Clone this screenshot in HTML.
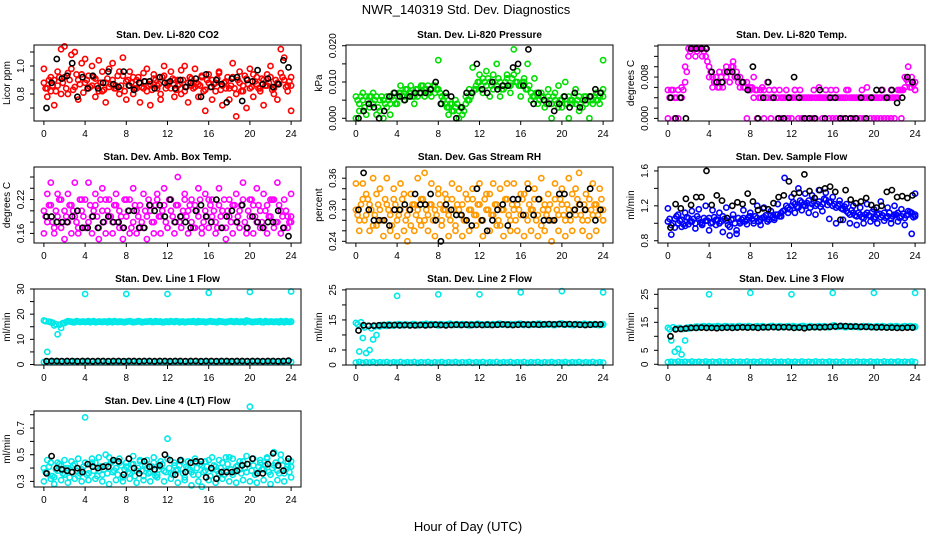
<!DOCTYPE html>
<html><head><meta charset="utf-8">
<style>
html,body{margin:0;padding:0;background:#fff;}
svg{display:block;font-family:"Liberation Sans",sans-serif;}
</style></head>
<body>
<svg id="chart" width="936" height="540" viewBox="0 0 936 540" xmlns="http://www.w3.org/2000/svg">
<rect width="936" height="540" fill="#fff"/>
<text x="466" y="14" font-size="13" text-anchor="middle">NWR_140319  Std. Dev. Diagnostics</text>
<text x="468" y="531" font-size="13" text-anchor="middle">Hour of Day (UTC)</text>
</svg>
<script>
// ---- data ----
const xTicks=[0,4,8,12,16,20,24];
// P1 CO2
const co2A=[0.88,0.84,0.82,0.90,0.86,0.80,0.92,0.95,0.98,0.85,0.90,1.02,0.88,0.93,0.86,0.91,0.82,0.96,0.88,0.85,0.90,0.84,0.80,0.93,0.89,0.86,0.92,0.84,0.88,0.95,0.82,0.87,0.91,0.86,0.80,0.93,0.88,0.84,0.90,0.86,0.97,0.82,0.88,0.91,0.85,0.87,0.93,0.83,0.88,0.90,0.82,0.95,0.86,0.89,0.84,0.92,0.80,0.88,0.86,0.91,0.84,0.94,0.87,0.82,0.90,0.86,0.92,0.84,0.88,0.95,0.90,0.86,0.92];
const co2B=[0.98,0.78,0.92,0.72,0.96,1.12,1.14,0.80,1.08,1.10,0.76,0.94,1.05,0.84,1.00,0.78,1.04,0.82,0.74,0.98,1.02,0.86,0.96,1.06,0.76,0.96,0.80,0.90,0.74,0.84,0.98,0.72,0.94,0.84,0.76,1.00,0.86,0.96,0.78,0.90,0.80,1.00,0.74,0.86,0.98,0.78,0.92,0.68,0.94,0.76,0.88,0.96,0.72,0.84,0.76,1.02,0.64,0.96,0.82,0.70,0.98,0.78,0.92,0.84,0.72,0.94,1.00,0.80,0.76,1.12,1.06,0.82,0.68];
const co2C=[0.84,0.90,0.86,0.82,0.92,0.88,0.84,0.90,0.83,0.94,0.87,0.81,0.90,0.85,0.92,0.86,0.88,0.83,0.91,0.87,0.84,0.93,0.86,0.82,0.90,0.88,0.84,0.92,0.85,0.89,0.86,0.83,0.90,0.87,0.92,0.84,0.88,0.91,0.83,0.87,0.90,0.85,0.92,0.84,0.88,0.86,0.82,0.90,0.85,0.87,0.91,0.83,0.88,0.92,0.86,0.84,0.90,0.82,0.93,0.87,0.85,0.89,0.84,0.91,0.86,0.88,0.83,0.90,0.87,0.92,0.85,0.89,0.86];
const co2K=[0.70,0.88,1.05,0.91,0.93,1.02,0.78,0.92,0.84,0.93,0.84,0.88,0.96,0.87,0.85,0.96,0.86,0.83,0.88,0.89,0.89,0.84,0.92,0.88,0.89,0.84,0.90,0.85,0.88,0.91,0.78,0.94,0.85,0.90,0.87,0.74,0.91,0.92,0.75,0.90,0.89,0.97,0.87,0.91,0.85,0.87,1.04,0.99];
// P2 Pressure
const presA=[0.006,0.002,0.005,0.006,0.003,0.004,0.006,0.002,0.005,0.003,0.001,0.005,0.006,0.007,0.006,0.008,0.007,0.006,0.008,0.007,0.008,0.007,0.008,0.009,0.008,0.006,0.004,0.003,0.002,0.003,0.002,0.001,0.004,0.005,0.007,0.009,0.010,0.011,0.009,0.010,0.012,0.009,0.010,0.008,0.011,0.009,0.012,0.010,0.009,0.011,0.008,0.007,0.006,0.007,0.006,0.005,0.006,0.004,0.005,0.003,0.005,0.004,0.006,0.005,0.004,0.006,0.005,0.004,0.006,0.005,0.007,0.006,0.008];
const presB=[0.000,0.004,0.007,0.001,0.006,0.007,0.001,0.005,0.000,0.006,0.004,0.007,0.004,0.009,0.005,0.006,0.009,0.004,0.006,0.009,0.006,0.009,0.006,0.007,0.016,0.004,0.006,0.001,0.004,0.005,0.000,0.003,0.006,0.008,0.014,0.008,0.012,0.007,0.013,0.006,0.008,0.015,0.006,0.009,0.012,0.007,0.019,0.013,0.006,0.010,0.015,0.005,0.011,0.004,0.007,0.003,0.008,0.000,0.007,0.009,0.003,0.010,0.000,0.004,0.008,0.002,0.003,0.006,0.000,0.004,0.005,0.004,0.016];
const presC=[0.005,0.006,0.003,0.005,0.006,0.005,0.003,0.006,0.004,0.005,0.006,0.004,0.007,0.006,0.008,0.007,0.006,0.008,0.007,0.009,0.008,0.007,0.009,0.008,0.007,0.005,0.003,0.004,0.002,0.004,0.003,0.002,0.005,0.006,0.008,0.010,0.009,0.010,0.011,0.009,0.010,0.011,0.008,0.010,0.009,0.011,0.010,0.009,0.010,0.008,0.009,0.006,0.007,0.005,0.006,0.004,0.005,0.006,0.004,0.005,0.006,0.004,0.005,0.006,0.005,0.004,0.006,0.005,0.006,0.006,0.005,0.007,0.006];
const presK=[0.000,0.002,0.004,0.003,0.000,0.002,0.006,0.007,0.006,0.005,0.006,0.007,0.007,0.007,0.008,0.010,0.004,0.007,0.006,0.000,0.003,0.007,0.007,0.015,0.008,0.007,0.010,0.008,0.009,0.009,0.014,0.015,0.009,0.019,0.004,0.007,0.005,0.004,0.002,0.004,0.006,0.003,0.007,0.003,0.005,0.006,0.008,0.007];
// P3 Li-820 Temp
const ltA=[0.0055,0.004,0,0.0055,0.004,0.007,0.012,0.0135,0.0135,0.0135,0.0135,0.012,0.010,0.008,0.007,0.006,0.007,0.008,0.009,0.010,0.009,0.008,0.006,0.007,0.0055,0.004,0.0055,0.004,0.0055,0.004,0.004,0.0055,0.004,0.004,0.004,0.004,0.004,0.0055,0.004,0.004,0.004,0.004,0.004,0.004,0.004,0.004,0.004,0.004,0.004,0.0055,0.004,0.004,0.004,0.004,0.004,0.004,0.004,0.004,0.004,0.004,0.004,0.004,0.004,0.004,0.004,0.0055,0.004,0.004,0.0055,0.006,0.007,0.008,0.007];
const ltB=[0,0.0055,0.004,0,0.006,0.010,0.0135,0.0135,0.012,0.0135,0.012,0.0135,0.008,0.006,0.008,0.009,0.006,0.010,0.007,0.011,0.008,0.006,0.007,0,0.006,0.008,0,0.0055,0,0.007,0,0.0055,0,0,0,0,0,0.0055,0,0,0,0,0,0,0.006,0,0.0055,0,0,0,0,0,0.0055,0,0,0,0,0,0.006,0,0,0,0,0,0,0,0,0.0055,0,0.008,0.010,0.006,0.0055];
const ltC=[0.004,0.0055,0.004,0.004,0.0055,0.009,0.013,0.0135,0.013,0.0135,0.013,0.011,0.009,0.007,0.006,0.008,0.009,0.009,0.010,0.008,0.007,0.007,0.006,0.0055,0.006,0.0055,0.004,0.006,0.004,0.0055,0.004,0.004,0.0055,0.004,0.0055,0.004,0.004,0.004,0.0055,0.004,0.004,0.004,0.0055,0.004,0.004,0.004,0.004,0.0055,0.004,0.004,0.004,0.004,0.0055,0.004,0.004,0.004,0.0055,0.004,0.004,0.004,0.004,0.004,0.0055,0.004,0.004,0.004,0.004,0.0055,0.0055,0.0075,0.006,0.0065,0.0055];
const ltK=[0.004,0,0.004,0,0.0135,0.0135,0.0135,0.0135,0.009,0.007,0.007,0.009,0.009,0.008,0.007,0.0055,0.010,0,0.004,0.007,0.004,0,0,0.004,0.008,0.004,0,0,0,0.0055,0,0.004,0.004,0,0,0,0,0.004,0,0.004,0.0055,0.0055,0.004,0.0055,0.003,0.004,0.008,0.007];
// P4 Amb box temp
const abA=[0.20,0.18,0.21,0.17,0.19,0.22,0.20,0.18,0.21,0.19,0.17,0.20,0.22,0.18,0.19,0.21,0.17,0.20,0.22,0.19,0.18,0.21,0.20,0.17,0.19,0.22,0.18,0.20,0.21,0.17,0.19,0.20,0.18,0.22,0.19,0.21,0.17,0.20,0.18,0.21,0.19,0.22,0.20,0.18,0.21,0.19,0.17,0.20,0.22,0.19,0.18,0.21,0.20,0.17,0.19,0.21,0.18,0.20,0.22,0.17,0.19,0.21,0.18,0.20,0.17,0.21,0.19,0.22,0.18,0.20,0.17,0.19,0.18];
const abB=[0.16,0.23,0.25,0.16,0.23,0.17,0.15,0.23,0.16,0.25,0.16,0.22,0.17,0.25,0.16,0.23,0.15,0.24,0.16,0.22,0.16,0.23,0.17,0.15,0.22,0.16,0.24,0.16,0.17,0.23,0.15,0.21,0.16,0.23,0.16,0.24,0.17,0.22,0.16,0.26,0.17,0.23,0.16,0.22,0.17,0.24,0.16,0.23,0.17,0.22,0.16,0.24,0.17,0.15,0.22,0.16,0.23,0.17,0.25,0.16,0.22,0.16,0.24,0.17,0.23,0.16,0.22,0.17,0.25,0.16,0.22,0.17,0.23];
const abC=[0.19,0.21,0.18,0.20,0.22,0.18,0.19,0.21,0.20,0.18,0.22,0.19,0.17,0.21,0.20,0.19,0.22,0.18,0.20,0.19,0.21,0.18,0.19,0.22,0.20,0.17,0.21,0.19,0.18,0.20,0.22,0.18,0.21,0.19,0.20,0.18,0.22,0.19,0.21,0.18,0.20,0.19,0.21,0.17,0.20,0.22,0.18,0.19,0.21,0.20,0.17,0.19,0.22,0.20,0.18,0.21,0.19,0.21,0.18,0.20,0.22,0.19,0.21,0.18,0.20,0.19,0.22,0.18,0.21,0.19,0.20,0.18,0.19];
const abK=[0.19,0.19,0.18,0.18,0.18,0.19,0.20,0.17,0.17,0.19,0.17,0.18,0.19,0.18,0.18,0.17,0.20,0.20,0.17,0.17,0.21,0.20,0.21,0.19,0.22,0.18,0.19,0.18,0.17,0.20,0.21,0.19,0.18,0.22,0.17,0.19,0.20,0.18,0.21,0.17,0.19,0.18,0.17,0.18,0.18,0.20,0.17,0.155];
// P5 RH
const rhA=[0.30,0.28,0.32,0.29,0.31,0.27,0.33,0.30,0.28,0.31,0.29,0.32,0.28,0.30,0.33,0.29,0.27,0.31,0.30,0.32,0.28,0.29,0.31,0.30,0.33,0.28,0.30,0.29,0.32,0.27,0.30,0.31,0.28,0.30,0.32,0.29,0.31,0.28,0.30,0.33,0.29,0.31,0.27,0.30,0.32,0.28,0.30,0.31,0.29,0.33,0.28,0.30,0.32,0.29,0.27,0.31,0.30,0.28,0.32,0.29,0.31,0.28,0.30,0.33,0.29,0.31,0.28,0.30,0.32,0.29,0.31,0.30,0.28];
const rhB=[0.35,0.26,0.35,0.33,0.26,0.36,0.27,0.34,0.25,0.36,0.26,0.34,0.25,0.35,0.26,0.24,0.33,0.26,0.36,0.27,0.37,0.26,0.35,0.25,0.34,0.27,0.33,0.25,0.35,0.26,0.34,0.25,0.33,0.26,0.34,0.27,0.35,0.25,0.33,0.26,0.35,0.27,0.34,0.25,0.35,0.26,0.35,0.26,0.33,0.25,0.35,0.26,0.34,0.25,0.36,0.26,0.33,0.24,0.35,0.26,0.34,0.25,0.36,0.26,0.34,0.37,0.26,0.33,0.25,0.35,0.26,0.34,0.28];
const rhC=[0.29,0.31,0.28,0.32,0.30,0.29,0.31,0.28,0.32,0.30,0.27,0.31,0.29,0.32,0.28,0.30,0.31,0.29,0.28,0.32,0.30,0.31,0.28,0.29,0.31,0.30,0.32,0.28,0.30,0.31,0.29,0.28,0.32,0.30,0.29,0.31,0.28,0.32,0.30,0.29,0.31,0.28,0.30,0.32,0.29,0.31,0.28,0.30,0.32,0.29,0.31,0.30,0.28,0.32,0.30,0.29,0.31,0.28,0.30,0.32,0.29,0.31,0.28,0.30,0.32,0.29,0.31,0.28,0.30,0.31,0.29,0.32,0.30];
const rhK=[0.30,0.37,0.30,0.28,0.28,0.28,0.27,0.30,0.30,0.31,0.30,0.33,0.31,0.31,0.33,0.28,0.24,0.31,0.30,0.29,0.29,0.28,0.27,0.34,0.28,0.26,0.28,0.30,0.31,0.27,0.32,0.32,0.29,0.34,0.29,0.32,0.28,0.28,0.28,0.33,0.33,0.29,0.30,0.31,0.30,0.34,0.28,0.30];
// P6 Sample flow
const sfA=[1.02,0.98,1.05,1.00,1.04,0.97,1.06,1.02,1.00,1.05,0.98,1.03,1.06,1.01,1.04,1.00,1.08,1.03,0.96,1.05,0.92,1.02,1.06,1.04,1.08,1.03,1.06,1.04,1.07,1.05,1.09,1.06,1.10,1.12,1.15,1.18,1.20,1.22,1.18,1.24,1.20,1.26,1.22,1.20,1.25,1.22,1.27,1.24,1.20,1.18,1.22,1.16,1.14,1.10,1.12,1.08,1.10,1.06,1.12,1.08,1.05,1.10,1.07,1.12,1.08,1.05,1.10,1.12,1.08,1.06,1.10,1.12,1.08];
const sfB=[1.17,0.87,0.95,1.10,0.96,1.12,0.99,1.14,0.94,1.16,1.00,1.20,0.92,1.15,0.98,1.12,0.90,1.18,0.86,1.10,0.88,1.00,1.15,0.99,1.12,1.00,1.20,0.98,1.18,1.02,1.14,1.04,1.22,1.08,1.52,1.12,1.30,1.12,1.40,1.15,1.34,1.12,1.32,1.10,1.38,1.14,1.35,1.05,1.30,1.00,1.26,1.04,1.22,1.00,1.20,0.98,1.18,1.00,1.22,1.02,1.16,1.00,1.25,1.03,1.18,1.00,1.20,1.02,1.16,0.98,1.14,0.88,1.34];
const sfC=[1.05,1.00,1.08,1.03,0.99,1.07,1.02,1.05,1.08,1.01,1.06,1.03,1.00,1.07,1.04,1.02,1.05,0.98,1.04,1.00,1.06,1.04,1.02,1.07,1.05,1.08,1.02,1.06,1.09,1.04,1.07,1.10,1.08,1.14,1.20,1.16,1.24,1.19,1.26,1.21,1.23,1.18,1.25,1.22,1.19,1.28,1.21,1.25,1.22,1.20,1.17,1.19,1.12,1.15,1.09,1.12,1.07,1.10,1.09,1.13,1.07,1.11,1.09,1.06,1.12,1.08,1.10,1.06,1.11,1.09,1.13,1.07,1.10];
const sfK=[0.95,1.22,1.17,1.28,1.21,1.30,1.30,1.60,1.21,1.32,1.26,1.06,1.20,1.24,1.22,1.34,1.25,1.15,1.17,1.16,1.23,1.30,1.32,1.48,1.34,1.35,1.56,1.37,1.29,1.38,1.40,1.42,1.36,1.04,1.38,1.27,1.23,1.25,1.29,1.21,1.18,1.20,1.36,1.38,1.30,1.31,1.29,1.32];
// P7 Line 1
const l1A=[17.5,5,16.8,15.5,12,14.5,16.5,17.2,17.0,16.8,17.1,17.0,16.9,17.2,17.0,16.8,17.1,16.9,17.0,17.2,16.8,17.0,17.1,16.9,17.0,17.2,16.8,17.0,17.1,16.9,17.0,17.2,16.9,17.0,17.1,16.8,17.0,17.2,16.9,17.1,17.0,16.8,17.1,17.0,16.9,17.2,17.0,16.8,17.1,17.0,16.9,17.2,17.0,16.8,17.1,17.0,17.2,16.9,17.0,17.5,17.1,16.9,17.0,17.2,16.8,17.0,17.1,16.9,17.0,17.2,16.8,17.0,17.1];
const l1C=[17.2,17.0,16.6,16.0,15.8,16.4,16.9,17.1,16.8,17.2,16.9,17.1,17.0,16.8,17.2,16.9,17.0,17.1,16.8,17.0,17.2,16.9,17.0,16.8,17.1,17.0,16.9,17.2,16.8,17.0,17.1,16.9,17.2,17.0,16.8,17.1,16.9,17.0,17.2,16.8,17.1,16.9,17.0,17.2,16.8,17.0,17.1,16.9,17.2,17.0,16.8,17.1,16.9,17.0,17.2,16.9,17.0,17.1,16.8,17.2,16.9,17.0,17.1,16.8,17.2,16.9,17.0,17.1,16.8,17.0,17.2,16.9,17.0];
const l1B=[1.0,1.2,0.9,1.1,1.0,1.3,0.9,1.0,1.1,1.2,0.9,1.0,1.1,1.0,1.2,0.9,1.0,1.1,1.0,1.2,0.9,1.1,1.0,1.0,1.2,0.9,1.1,1.0,1.0,1.2,0.9,1.1,1.0,1.0,1.2,0.9,1.1,1.0,1.0,1.2,0.9,1.1,1.0,1.0,1.2,0.9,1.1,1.0,1.0,1.2,0.9,1.1,1.0,1.0,1.2,0.9,1.1,1.0,1.0,1.2,0.9,1.1,1.0,1.0,1.2,0.9,1.1,1.0,1.0,1.2,0.9,1.1,1.0];
const l1K=[1.3,1.4,1.4,1.3,1.4,1.4,1.3,1.4,1.4,1.3,1.4,1.4,1.3,1.4,1.4,1.3,1.4,1.4,1.3,1.4,1.4,1.3,1.4,1.4,1.3,1.4,1.4,1.3,1.4,1.4,1.3,1.4,1.4,1.3,1.4,1.4,1.3,1.4,1.4,1.3,1.4,1.4,1.3,1.4,1.4,1.3,1.4,1.5];
const spikeT=[4,8,12,16,20,24];
const l1S=[28,28,28,28.5,28.8,29];
// P8 Line 2
const l2A=[14,4.5,9,4,5,8.5,10,12.8,13.2,13.0,13.4,13.1,13.3,13.5,13.2,13.4,13.3,13.6,13.2,13.4,13.5,13.3,13.6,13.4,13.2,13.5,13.3,13.6,13.4,13.5,13.3,13.6,13.4,13.2,13.5,13.3,13.6,13.4,13.5,13.3,13.6,13.4,13.7,13.5,13.3,13.6,13.4,13.5,13.7,13.3,13.6,13.4,13.5,13.7,13.3,13.6,13.4,13.5,13.3,13.6,13.8,13.4,13.5,13.3,13.6,13.4,13.5,13.3,13.6,13.4,13.5,13.3,13.6];
const l2C=[13.5,14.2,12.5,13.0,12.2,12.8,13.0,13.3,13.1,13.5,13.2,13.4,13.6,13.3,13.5,13.2,13.6,13.4,13.3,13.5,13.7,13.4,13.5,13.3,13.6,13.4,13.5,13.7,13.3,13.6,13.4,13.5,13.3,13.6,13.4,13.7,13.5,13.3,13.6,13.4,13.5,13.7,13.4,13.6,13.5,13.3,13.6,13.7,13.4,13.5,13.3,13.6,13.4,13.7,13.5,13.4,13.6,13.3,13.5,13.7,13.4,13.6,13.5,13.3,13.6,13.4,13.7,13.5,13.4,13.6,13.3,13.5,13.4];
const l2B=[0.8,1.0,0.7,0.9,0.8,1.0,0.7,0.9,0.8,1.0,0.7,0.9,0.8,1.0,0.7,0.9,0.8,1.0,0.7,0.9,0.8,1.0,0.7,0.9,0.8,1.0,0.7,0.9,0.8,1.0,0.7,0.9,0.8,1.0,0.7,0.9,0.8,1.0,0.7,0.9,0.8,1.0,0.7,0.9,0.8,1.0,0.7,0.9,0.8,1.0,0.7,0.9,0.8,1.0,0.7,0.9,0.8,1.0,0.7,0.9,0.8,1.0,0.7,0.9,0.8,1.0,0.7,0.9,0.8,1.0,0.7,0.9,0.8];
const l2K=[11.5,13.2,13.0,13.1,13.2,13.3,13.2,13.3,13.2,13.3,13.2,13.2,13.3,13.2,13.3,13.4,13.3,13.2,13.3,13.4,13.3,13.4,13.3,13.4,13.3,13.4,13.3,13.4,13.5,13.4,13.3,13.4,13.5,13.4,13.5,13.4,13.5,13.6,13.5,13.6,13.5,13.6,13.5,13.4,13.3,13.4,13.5,13.5];
const l2S=[23,23.5,23.5,24.2,24.6,24.2];
// P9 Line 3
const l3A=[13,8.5,4.5,5.5,3.5,8.5,12.8,13.0,13.4,13.2,13.5,13.3,13.6,13.4,13.2,13.5,13.3,13.6,13.4,13.5,13.3,13.6,13.4,13.2,13.5,13.3,13.6,13.4,13.5,13.3,13.6,13.4,13.2,13.5,13.3,13.6,13.4,13.5,13.3,13.6,13.4,13.2,13.5,13.3,13.6,13.4,13.5,13.3,13.8,13.4,13.6,13.5,13.3,13.6,13.4,13.5,13.3,13.6,13.4,13.5,13.3,13.6,13.4,13.5,13.3,13.6,13.4,13.5,13.3,13.6,13.4,13.5,13.3];
const l3C=[12.5,13.2,12.8,13.0,12.6,13.1,13.3,13.1,13.5,13.3,13.6,13.4,13.2,13.5,13.7,13.3,13.6,13.4,13.5,13.3,13.6,13.4,13.5,13.7,13.3,13.5,13.4,13.6,13.3,13.5,13.7,13.4,13.6,13.3,13.5,13.4,13.6,13.3,13.5,13.7,13.4,13.6,13.3,13.5,13.4,13.6,13.3,13.5,13.9,13.4,13.6,13.3,13.5,13.4,13.6,13.3,13.5,13.4,13.6,13.3,13.5,13.4,13.6,13.3,13.5,13.4,13.6,13.3,13.5,13.4,13.6,13.3,13.5];
const l3B=[0.8,0.9,0.7,1.0,0.8,0.9,0.7,1.0,0.8,0.9,0.7,1.0,0.8,0.9,0.7,1.0,0.8,0.9,0.7,1.0,0.8,0.9,0.7,1.0,0.8,0.9,0.7,1.0,0.8,0.9,0.7,1.0,0.8,0.9,0.7,1.0,0.8,0.9,0.7,1.0,0.8,0.9,0.7,1.0,0.8,0.9,0.7,1.0,0.8,0.9,0.7,1.0,0.8,0.9,0.7,1.0,0.8,0.9,0.7,1.0,0.8,0.9,0.7,1.0,0.8,0.9,0.7,1.0,0.8,0.9,0.7,1.0,0.8];
const l3K=[10,12.5,12.6,12.8,13.0,13.0,13.1,13.0,13.0,12.9,13.0,13.1,13.0,13.1,13.2,13.1,13.2,13.0,13.2,13.2,13.3,13.2,13.3,13.2,13.0,13.1,12.9,13.2,13.3,13.2,13.3,13.4,13.5,13.7,13.6,13.5,13.5,13.4,13.4,13.3,13.2,13.2,13.1,13.1,13.0,13.0,13.1,13.1];
const l3S=[25,25.5,25,25.5,25.5,25.5];
// P10 Line 4
const l4A=[0.40,0.36,0.44,0.33,0.38,0.42,0.35,0.40,0.37,0.43,0.34,0.39,0.78,0.36,0.44,0.44,0.38,0.35,0.42,0.48,0.37,0.40,0.44,0.33,0.41,0.36,0.43,0.38,0.46,0.34,0.40,0.37,0.44,0.35,0.41,0.38,0.62,0.36,0.42,0.39,0.45,0.33,0.40,0.37,0.44,0.35,0.42,0.38,0.46,0.39,0.41,0.36,0.44,0.38,0.48,0.35,0.41,0.39,0.45,0.37,0.86,0.42,0.36,0.44,0.39,0.47,0.35,0.42,0.38,0.50,0.36,0.41,0.45];
const l4B=[0.30,0.46,0.32,0.28,0.44,0.31,0.46,0.29,0.45,0.32,0.47,0.30,0.44,0.31,0.47,0.32,0.48,0.30,0.50,0.28,0.45,0.31,0.47,0.30,0.44,0.32,0.49,0.29,0.45,0.31,0.46,0.30,0.48,0.33,0.45,0.30,0.47,0.32,0.44,0.29,0.46,0.31,0.45,0.27,0.47,0.30,0.26,0.45,0.31,0.48,0.29,0.46,0.32,0.48,0.30,0.47,0.29,0.45,0.31,0.49,0.30,0.47,0.29,0.46,0.31,0.48,0.28,0.52,0.31,0.46,0.30,0.45,0.33];
const l4C=[0.37,0.41,0.34,0.39,0.43,0.36,0.40,0.33,0.42,0.38,0.36,0.41,0.35,0.43,0.38,0.34,0.41,0.39,0.36,0.44,0.38,0.35,0.42,0.39,0.37,0.43,0.34,0.40,0.38,0.42,0.36,0.41,0.34,0.39,0.43,0.37,0.40,0.35,0.38,0.42,0.36,0.41,0.39,0.35,0.40,0.43,0.37,0.41,0.34,0.42,0.38,0.40,0.35,0.43,0.39,0.37,0.42,0.36,0.40,0.43,0.38,0.35,0.41,0.39,0.42,0.37,0.40,0.44,0.36,0.42,0.39,0.37,0.41];
const l4K=[0.36,0.49,0.40,0.39,0.38,0.37,0.40,0.37,0.43,0.41,0.40,0.41,0.41,0.46,0.45,0.35,0.47,0.40,0.36,0.45,0.41,0.39,0.42,0.50,0.46,0.35,0.46,0.37,0.44,0.45,0.45,0.33,0.40,0.32,0.37,0.37,0.37,0.38,0.42,0.43,0.47,0.36,0.36,0.43,0.51,0.42,0.38,0.47];

// ---- panel layout ----
const NS="http://www.w3.org/2000/svg";
const svg=document.getElementById('chart');
const panels=[
 {name:'co2',title:'Stan. Dev. Li-820 CO2',ylab:'Licor ppm',col:0,row:0,y0:0.607,y1:1.15,ticks:[0.6,0.7,0.8,0.9,1.0,1.1],labels:{'0.6':'0.6','0.8':'0.8','1':'1.0'},color:'#ff0000',series:[co2A,co2B,co2C],black:co2K},
 {name:'pressure',title:'Stan. Dev. Li-820 Pressure',ylab:'kPa',col:1,row:0,y0:-0.00075,y1:0.0202,ticks:[0,0.005,0.01,0.015,0.02],labels:{'0':'0.000','0.01':'0.010','0.02':'0.020'},color:'#00dd00',series:[presA,presB,presC],black:presK},
 {name:'li820-temp',title:'Stan. Dev. Li-820 Temp.',ylab:'degrees C',col:2,row:0,y0:-0.0005,y1:0.0142,ticks:[0,0.002,0.004,0.006,0.008,0.01,0.012,0.014],labels:{'0':'0.000','0.008':'0.008'},color:'#ff00ff',series:[ltA,ltB,ltC],black:ltK},
 {name:'amb-box-temp',title:'Stan. Dev. Amb. Box Temp.',ylab:'degrees C',col:0,row:1,y0:0.143,y1:0.2777,ticks:[0.16,0.18,0.2,0.22,0.24,0.26],labels:{'0.16':'0.16','0.22':'0.22'},color:'#ff00ff',series:[abA,abB,abC],black:abK},
 {name:'gas-rh',title:'Stan. Dev. Gas Stream RH',ylab:'percent',col:1,row:1,y0:0.2368,y1:0.3813,ticks:[0.24,0.26,0.28,0.3,0.32,0.34,0.36],labels:{'0.24':'0.24','0.3':'0.30','0.36':'0.36'},color:'#ff9900',series:[rhA,rhB,rhC],black:rhK},
 {name:'sample-flow',title:'Stan. Dev. Sample Flow',ylab:'ml/min',col:2,row:1,y0:0.774,y1:1.645,ticks:[0.8,1.0,1.2,1.4,1.6],labels:{'0.8':'0.8','1.2':'1.2','1.6':'1.6'},color:'#0000ff',series:[sfA,sfB,sfC],black:sfK},
 {name:'line1-flow',title:'Stan. Dev. Line 1 Flow',ylab:'ml/min',col:0,row:2,y0:-0.2,y1:30,ticks:[0,5,10,15,20,25,30],labels:{'0':'0','10':'10','20':'20','30':'30'},color:'#00e8e8',series:[l1A,l1B,l1C],black:l1K,spikes:l1S},
 {name:'line2-flow',title:'Stan. Dev. Line 2 Flow',ylab:'ml/min',col:1,row:2,y0:0,y1:25.3,ticks:[0,5,10,15,20,25],labels:{'0':'0','5':'5','15':'15','25':'25'},color:'#00e8e8',series:[l2A,l2B,l2C],black:l2K,spikes:l2S},
 {name:'line3-flow',title:'Stan. Dev. Line 3 Flow',ylab:'ml/min',col:2,row:2,y0:-0.25,y1:26.9,ticks:[0,5,10,15,20,25],labels:{'0':'0','5':'5','15':'15','25':'25'},color:'#00e8e8',series:[l3A,l3B,l3C],black:l3K,spikes:l3S},
 {name:'line4-flow',title:'Stan. Dev. Line 4 (LT) Flow',ylab:'ml/min',col:0,row:3,y0:0.258,y1:0.828,ticks:[0.3,0.4,0.5,0.6,0.7,0.8],labels:{'0.3':'0.3','0.5':'0.5','0.7':'0.7'},color:'#00e8e8',series:[l4A,l4B,l4C],black:l4K}
];
const colLeft=[34,346,658], rowTop=[45,167,289,411], PW=267, PH=76;

function mk(tag,attrs,parent){const e=document.createElementNS(NS,tag);for(const k in attrs)e.setAttribute(k,attrs[k]);(parent||svg).appendChild(e);return e;}

panels.forEach(p=>{
  const L=colLeft[p.col], T=rowTop[p.row], B=T+PH;
  const g=mk('g',{});
  
  
  const xs=h=>L+(h+0.96)/25.92*PW;
  const ys=v=>B-(v-p.y0)/(p.y1-p.y0)*PH;
  const t=mk('text',{x:L+PW/2,y:T-7,'font-size':10,'font-weight':'bold','text-anchor':'middle'},g);
  t.textContent=p.title;
  
  
  const pts=mk('g',{fill:'none','stroke-width':1.6},g);
  
  
  const draw=(arr,col,times,off)=>{arr.forEach((v,i)=>{const h=times?times[i]:(i+(off||0))*24/(arr.length-1);const c=mk('circle',{cx:xs(Math.min(h,24)).toFixed(1),cy:ys(v).toFixed(1),r:2.6,stroke:col},pts);});};
  p.series.forEach((s,k)=>draw(s,p.color,null,k===2?0.5:0));
  if(p.spikes) draw(p.spikes,p.color,spikeT);
  draw(p.black,'#000',p.black.map((v,i)=>0.25+i*0.5));
  const box=mk('rect',{x:L,y:T,width:PW,height:PH,fill:'none',stroke:'#000','stroke-width':1},g);
  
  
  const xa=mk('g',{},g);
  
  
  mk('line',{x1:xs(0),x2:xs(24),y1:B,y2:B,stroke:'#000'},xa);
  xTicks.forEach(h=>{mk('line',{x1:xs(h),x2:xs(h),y1:B,y2:B+4,stroke:'#000'},xa);const tx=mk('text',{x:xs(h),y:B+16,'font-size':10,'text-anchor':'middle'},xa);tx.textContent=h;});
  const ya=mk('g',{},g);
  
  
  const tk=p.ticks.filter(v=>v>=p.y0-1e-9&&v<=p.y1+1e-9);
  mk('line',{x1:L,x2:L,y1:ys(tk[0]),y2:ys(tk[tk.length-1]),stroke:'#000'},ya);
  tk.forEach(v=>{const y=ys(v);mk('line',{x1:L-4,x2:L,y1:y,y2:y,stroke:'#000'},ya);const key=String(+v.toFixed(6));if(p.labels[key]!==undefined){const ty=mk('text',{x:L-10,y:y,'font-size':10,'text-anchor':'middle',transform:`rotate(-90 ${L-10} ${y})`},ya);ty.textContent=p.labels[key];}});
  const yl=mk('text',{x:L-24,y:T+PH/2,'font-size':10,'text-anchor':'middle',transform:`rotate(-90 ${L-24} ${T+PH/2})`},ya);
  yl.textContent=p.ylab;
  
  
});
</script>
</body></html>
